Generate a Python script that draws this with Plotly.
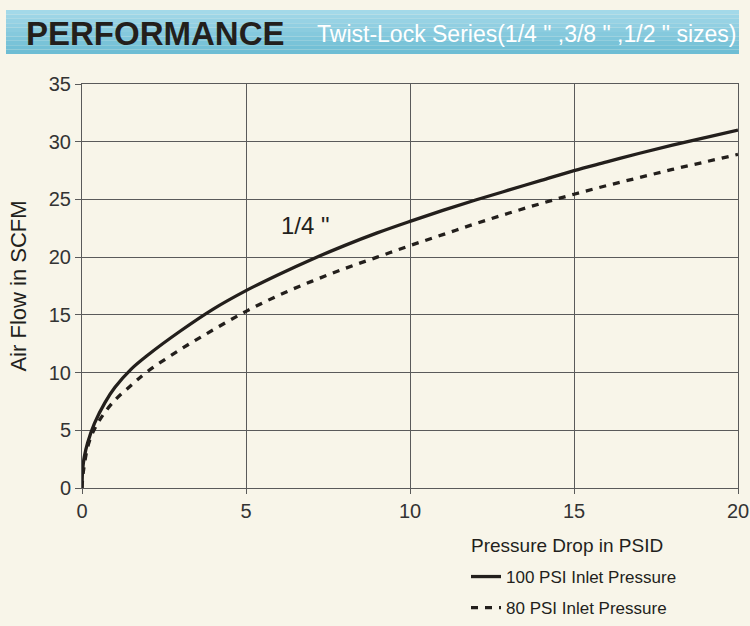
import plotly.graph_objects as go

# Pressure drop (PSID) vs air flow (SCFM)
psid_100 = [0, 0.02, 0.07, 0.17, 0.38, 0.7, 1, 1.5, 2, 3, 4, 5, 6, 7, 8, 9, 10,
            11, 12, 13, 14, 15, 16, 17, 18, 19, 20]
scfm_100 = [0, 1.6, 2.7, 3.9, 5.6, 7.4, 8.7, 10.3, 11.5, 13.6, 15.5, 17.1, 18.5, 19.8, 21.0, 22.1, 23.1,
            24.05, 24.95, 25.8, 26.65, 27.5, 28.25, 29.0, 29.7, 30.35, 31.0]

psid_80 = [0, 0.05, 0.23, 0.54, 1, 1.5, 2, 3, 4, 5, 6, 7, 8, 9, 10,
           11, 12, 13, 14, 15, 16, 17, 18, 19, 20]
scfm_80 = [0, 1.6, 4.1, 5.9, 7.6, 8.9, 10.1, 12.0, 13.7, 15.3, 16.7, 17.9, 19.0, 20.0, 21.0,
           21.95, 22.9, 23.8, 24.65, 25.45, 26.2, 26.9, 27.6, 28.25, 28.9]

x_ticks = [0, 5, 10, 15, 20]
y_ticks = [0, 5, 10, 15, 20, 25, 30, 35]

W, H = 750, 626
BG = '#f8f5e9'
INK = '#231f1c'
GRID = '#5a5a5a'
SANS = 'Liberation Sans, Arial, sans-serif'

# plot box in pixels: left 82, right 738, top 84, bottom 488
L, R, T, B = 82, 738, 84, 488
def px(x): return (x - L) / (R - L)
def py(y): return (B - y) / (B - T)

fig = go.Figure()
fig.add_trace(go.Scatter(x=psid_100, y=scfm_100, mode='lines', name='100 PSI Inlet Pressure',
                         line=dict(color=INK, width=3.3, shape='spline', smoothing=1),
                         legend='legend'))
fig.add_trace(go.Scatter(x=psid_80, y=scfm_80, mode='lines', name='80 PSI Inlet Pressure',
                         line=dict(color=INK, width=3.3, dash='7px,7px', shape='spline', smoothing=1),
                         legend='legend2'))

# header band, faked gradient with stacked strips
top_c, bot_c = (163, 217, 233), (110, 189, 212)
n = 10
y0, y1 = 10, 54
for i in range(n):
    t = i / (n - 1)
    c = tuple(int(top_c[k] + (bot_c[k] - top_c[k]) * t) for k in range(3))
    fig.add_shape(type='rect', xref='paper', yref='paper',
                  x0=px(6), x1=px(739),
                  y0=py(y0 + (y1 - y0) * (i + 1) / n), y1=py(y0 + (y1 - y0) * i / n),
                  fillcolor='rgb(%d,%d,%d)' % c, line_width=0, layer='below')

fig.add_annotation(xref='paper', yref='paper', x=px(24), y=py(33), xanchor='left', yanchor='middle',
                   text='<b>PERFORMANCE</b>', showarrow=False,
                   font=dict(family=SANS, size=33, color=INK))
fig.add_annotation(xref='paper', yref='paper', x=px(315), y=py(34), xanchor='left', yanchor='middle',
                   text='Twist-Lock Series(1/4 " ,3/8 " ,1/2 " sizes)', showarrow=False,
                   font=dict(family=SANS, size=23, color='white'))

fig.add_annotation(x=6.8, y=22.7, text='1/4 "', showarrow=False,
                   font=dict(family=SANS, size=24, color=INK))

fig.add_annotation(xref='paper', yref='paper', x=px(469), y=py(545), xanchor='left', yanchor='middle',
                   text='Pressure Drop in PSID', showarrow=False,
                   font=dict(family=SANS, size=19, color=INK))

leg = dict(xref='container', yref='container', xanchor='left', yanchor='middle',
           bgcolor='rgba(0,0,0,0)', font=dict(family=SANS, size=17, color=INK), itemwidth=30)
fig.update_layout(
    width=W, height=H,
    paper_bgcolor=BG, plot_bgcolor=BG,
    margin=dict(l=L, r=W - R, t=T, b=H - B, autoexpand=False),
    font=dict(family=SANS, color=INK),
    showlegend=True,
    legend=dict(leg, x=466 / W, y=1 - 577 / H),
    legend2=dict(leg, x=466 / W, y=1 - 608 / H),
)
fig.update_xaxes(range=[0, 20], tickvals=x_ticks, showgrid=True, gridcolor=GRID, gridwidth=1,
                 showline=True, linecolor=GRID, linewidth=1, mirror=True, automargin=False,
                 ticks='outside', ticklen=5, tickcolor=GRID, zeroline=False,
                 tickfont=dict(size=20, color='#333'))
fig.update_yaxes(range=[0, 35], tickvals=y_ticks, showgrid=True, gridcolor=GRID, gridwidth=1,
                 showline=True, linecolor=GRID, linewidth=1, mirror=True, automargin=False,
                 ticks='outside', ticklen=6, tickcolor=GRID, zeroline=False,
                 tickfont=dict(size=20, color='#333'),
                 title=dict(text='Air Flow in SCFM', font=dict(size=22, color=INK), standoff=16))

fig.write_html("out.html", config={'displayModeBar': False},
               post_script="document.body.style.margin='0';document.body.style.background='%s';" % BG)
